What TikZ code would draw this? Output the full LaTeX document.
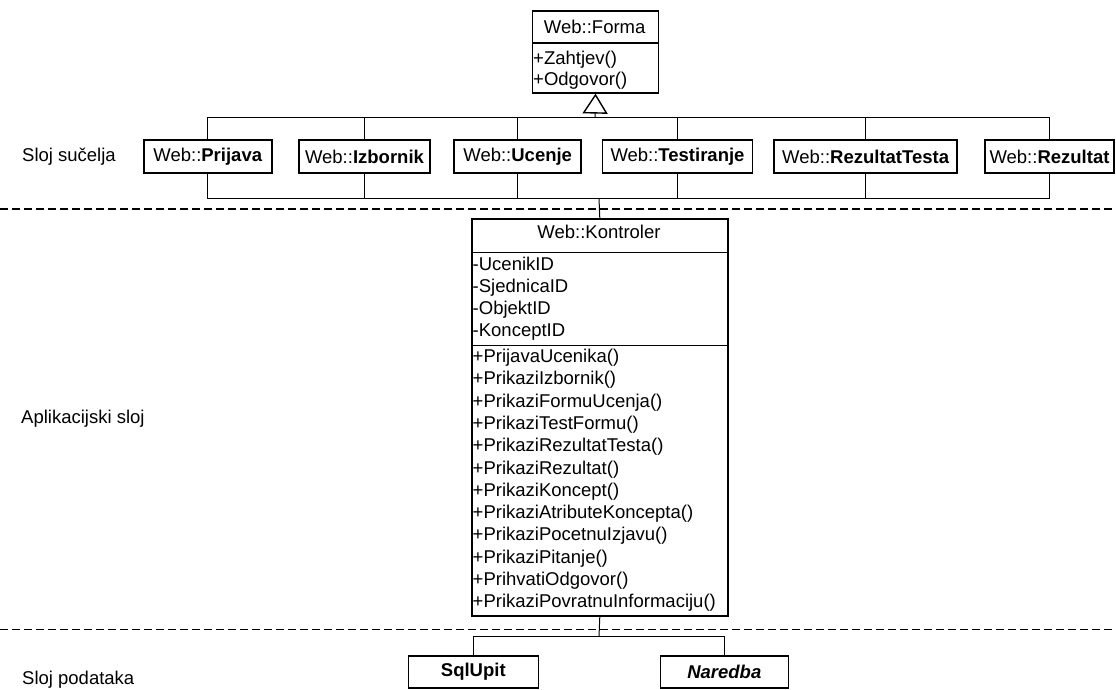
\documentclass[tikz,border=0pt]{standalone}
\usepackage{fontspec}
\setmainfont{Liberation Sans}
\usetikzlibrary{arrows.meta}
\begin{document}
\begin{tikzpicture}[x=1pt,y=-1pt,
  every node/.style={font=\fontsize{18.5}{22}\selectfont},
  cls/.style={draw=black,line width=1.6pt,inner sep=0pt},
  webbox/.style={cls,minimum height=33pt},
  sep/.style={line width=1.4pt},
  conn/.style={line width=1pt},
  layer/.style={line width=1.1pt,dash pattern=on 8pt off 4pt},
  txt/.style={anchor=base west,inner sep=0pt},
  lbl/.style={anchor=base west,inner sep=0pt}]
\useasboundingbox (0,0) rectangle (1116,689);
\fill[white] (0,0) rectangle (1116,689);

% layer separators
\draw[layer] (0,209) -- (1116,209);
\draw[layer] (0,629.3) -- (1116,629.3);

% layer labels
\node[lbl] (l1) at (22,161) {Sloj sučelja};
\node[lbl] (l2) at (21,423) {Aplikacijski sloj};
\node[lbl] (l3) at (22,684) {Sloj podataka};

% Web::Forma
\node[cls,minimum width=126pt,minimum height=82pt,anchor=north west] (forma) at (531.7,10) {};
\draw[sep] (forma.north west |- 0,43) -- (forma.north east |- 0,43);
\node[anchor=base,inner sep=0pt] (formaT) at (594.7,33.3) {Web::Forma};
\node[txt] (f1) at (533,64.5) {+Zahtjev()};
\node[txt] (f2) at (533,85.5) {+Odgovor()};

% interface classes
\node[webbox,minimum width=128pt] (prijava) at (207.8,156.7) {Web::\textbf{Prijava}};
\node[webbox,minimum width=131pt] (izbornik) at (364.5,156.7) {Web::\textbf{Izbornik}};
\node[webbox,minimum width=127pt] (ucenje) at (517.7,156.7) {Web::\textbf{Ucenje}};
\node[webbox,minimum width=150pt] (testiranje) at (677.5,156.7) {Web::\textbf{Testiranje}};
\node[webbox,minimum width=183pt] (rezultattesta) at (865.7,156.7) {Web::\textbf{RezultatTesta}};
\node[webbox,minimum width=129pt] (rezultat) at (1049.5,156.7) {Web::\textbf{Rezultat}};

\coordinate (busT) at (595,117.3);
\coordinate (busB) at (599,198.3);

% generalization bus
\draw[conn] (prijava.north) -- (prijava.north |- busT) -- (rezultat.north |- busT) -- (rezultat.north);
\foreach \n in {izbornik,ucenje,testiranje,rezultattesta}
  \draw[conn] (\n.north) -- (\n.north |- busT);
\draw[conn,-{Triangle[open,length=20pt,width=25pt,line width=1.4pt]}] (busT) -- (forma.south);

% lower bus
\draw[conn] (prijava.south) -- (prijava.south |- busB) -- (rezultat.south |- busB) -- (rezultat.south);
\foreach \n in {izbornik,ucenje,testiranje,rezultattesta}
  \draw[conn] (\n.south) -- (\n.south |- busB);

% Web::Kontroler
\node[cls,minimum width=256pt,minimum height=396.7pt,anchor=north west] (kontroler) at (471,218.3) {};
\draw[conn] (busB) -- (kontroler.north);
\draw[sep] (kontroler.west |- 0,252.3) -- (kontroler.east |- 0,252.3);
\draw[sep] (kontroler.west |- 0,345.7) -- (kontroler.east |- 0,345.7);
\node[anchor=base,inner sep=0pt] (kontT) at (599,238.5) {Web::Kontroler};
\foreach \t [count=\i from 0] in {-UcenikID,-SjednicaID,-ObjektID,-KonceptID}
  \node[txt] (a\i) at (472.5,270.5+22*\i) {\t};
\foreach \t [count=\i from 0] in {+PrijavaUcenika(),+PrikaziIzbornik(),+PrikaziFormuUcenja(),+PrikaziTestFormu(),+PrikaziRezultatTesta(),+PrikaziRezultat(),+PrikaziKoncept(),+PrikaziAtributeKoncepta(),+PrikaziPocetnuIzjavu(),+PrikaziPitanje(),+PrihvatiOdgovor(),+PrikaziPovratnuInformaciju()}
  \node[txt] (m\i) at (472.5,362.5+22.3*\i) {\t};

% data layer
\node[cls,minimum width=130pt,minimum height=32pt] (sqlupit) at (473.3,671.7) {\textbf{SqlUpit}};
\node[cls,minimum width=128pt,minimum height=32pt] (naredba) at (724.3,671.7) {\textbf{\itshape Naredba}};
\coordinate (busD) at (599,636.7);
\draw[conn] (kontroler.south) -- (busD);
\draw[conn] (sqlupit.north) -- (sqlupit.north |- busD) -- (naredba.north |- busD) -- (naredba.north);
\end{tikzpicture}
\end{document}
